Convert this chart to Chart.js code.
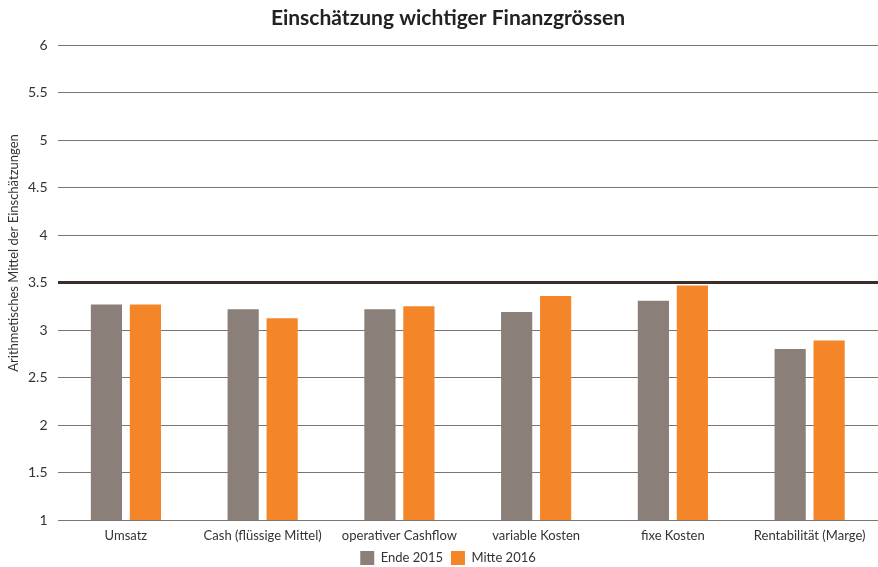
<!DOCTYPE html>
<html><head><meta charset="utf-8">
<script src="https://cdn.jsdelivr.net/npm/chart.js@4/dist/chart.umd.min.js"></script>
<style>html,body{margin:0;padding:0;background:#fff}#wrap{width:878px;height:567px}</style>
</head><body><div id="wrap"><canvas id="c"></canvas></div>
<script>
const categories = ["Umsatz","Cash (flüssige Mittel)","operativer Cashflow","variable Kosten","fixe Kosten","Rentabilität (Marge)"];
const ende2015 = [3.27,3.22,3.22,3.19,3.31,2.80];
const mitte2016 = [3.27,3.125,3.25,3.36,3.47,2.89];
const seriesNames = ["Ende 2015","Mitte 2016"];
const yAxisTitle = "Arithmetisches Mittel der Einschätzungen";
const FONT = "Lato";

const yTitlePlugin = {
  id: 'yTitle',
  afterDraw(chart) {
    const {ctx, chartArea} = chart;
    ctx.save();
    ctx.translate(14, chartArea.top + 0.4376 * (chartArea.bottom - chartArea.top));
    ctx.rotate(-Math.PI / 2);
    ctx.textAlign = 'center';
    ctx.textBaseline = 'middle';
    ctx.fillStyle = '#333';
    ctx.font = '13px ' + FONT;
    ctx.fillText(yAxisTitle, 0, 0);
    ctx.restore();
  }
};

new Chart(document.getElementById('c'), {
  type: 'bar',
  data: {
    labels: categories,
    datasets: [
      {label: seriesNames[0], data: ende2015, backgroundColor: '#8a7f79', categoryPercentage: 0.57, barPercentage: 0.8},
      {label: seriesNames[1], data: mitte2016, backgroundColor: '#f48528', categoryPercentage: 0.57, barPercentage: 0.8}
    ]
  },
  plugins: [yTitlePlugin],
  options: {
    responsive: true, maintainAspectRatio: false, animation: false,
    layout: {padding: {left: 18, right: 0, top: 4, bottom: -8}},
    plugins: {
      title: {display: true, text: 'Einschätzung wichtiger Finanzgrössen', color: '#222', font: {family: FONT, size: 21, weight: 'bold'}, padding: {top: 2, bottom: 14}},
      legend: {position: 'bottom', labels: {boxWidth: 14, boxHeight: 14, padding: 8, color: '#333', font: {family: FONT, size: 13}}},
      tooltip: {enabled: false}
    },
    scales: {
      x: {grid: {display: false}, border: {display: false}, ticks: {color: '#333', padding: 1, font: {family: FONT, size: 13, lineHeight: 1}}},
      y: {
        min: 1, max: 6,
        ticks: {stepSize: 0.5, color: '#333', padding: 10, font: {family: FONT, size: 14}, callback: v => String(v)},
        grid: {drawTicks: false, color: c => c.tick && c.tick.value === 3.5 ? '#3b2e2a' : '#7d7370', lineWidth: c => c.tick && c.tick.value === 3.5 ? 3 : 1},
        border: {display: false}
      }
    }
  }
});
</script></body></html>
